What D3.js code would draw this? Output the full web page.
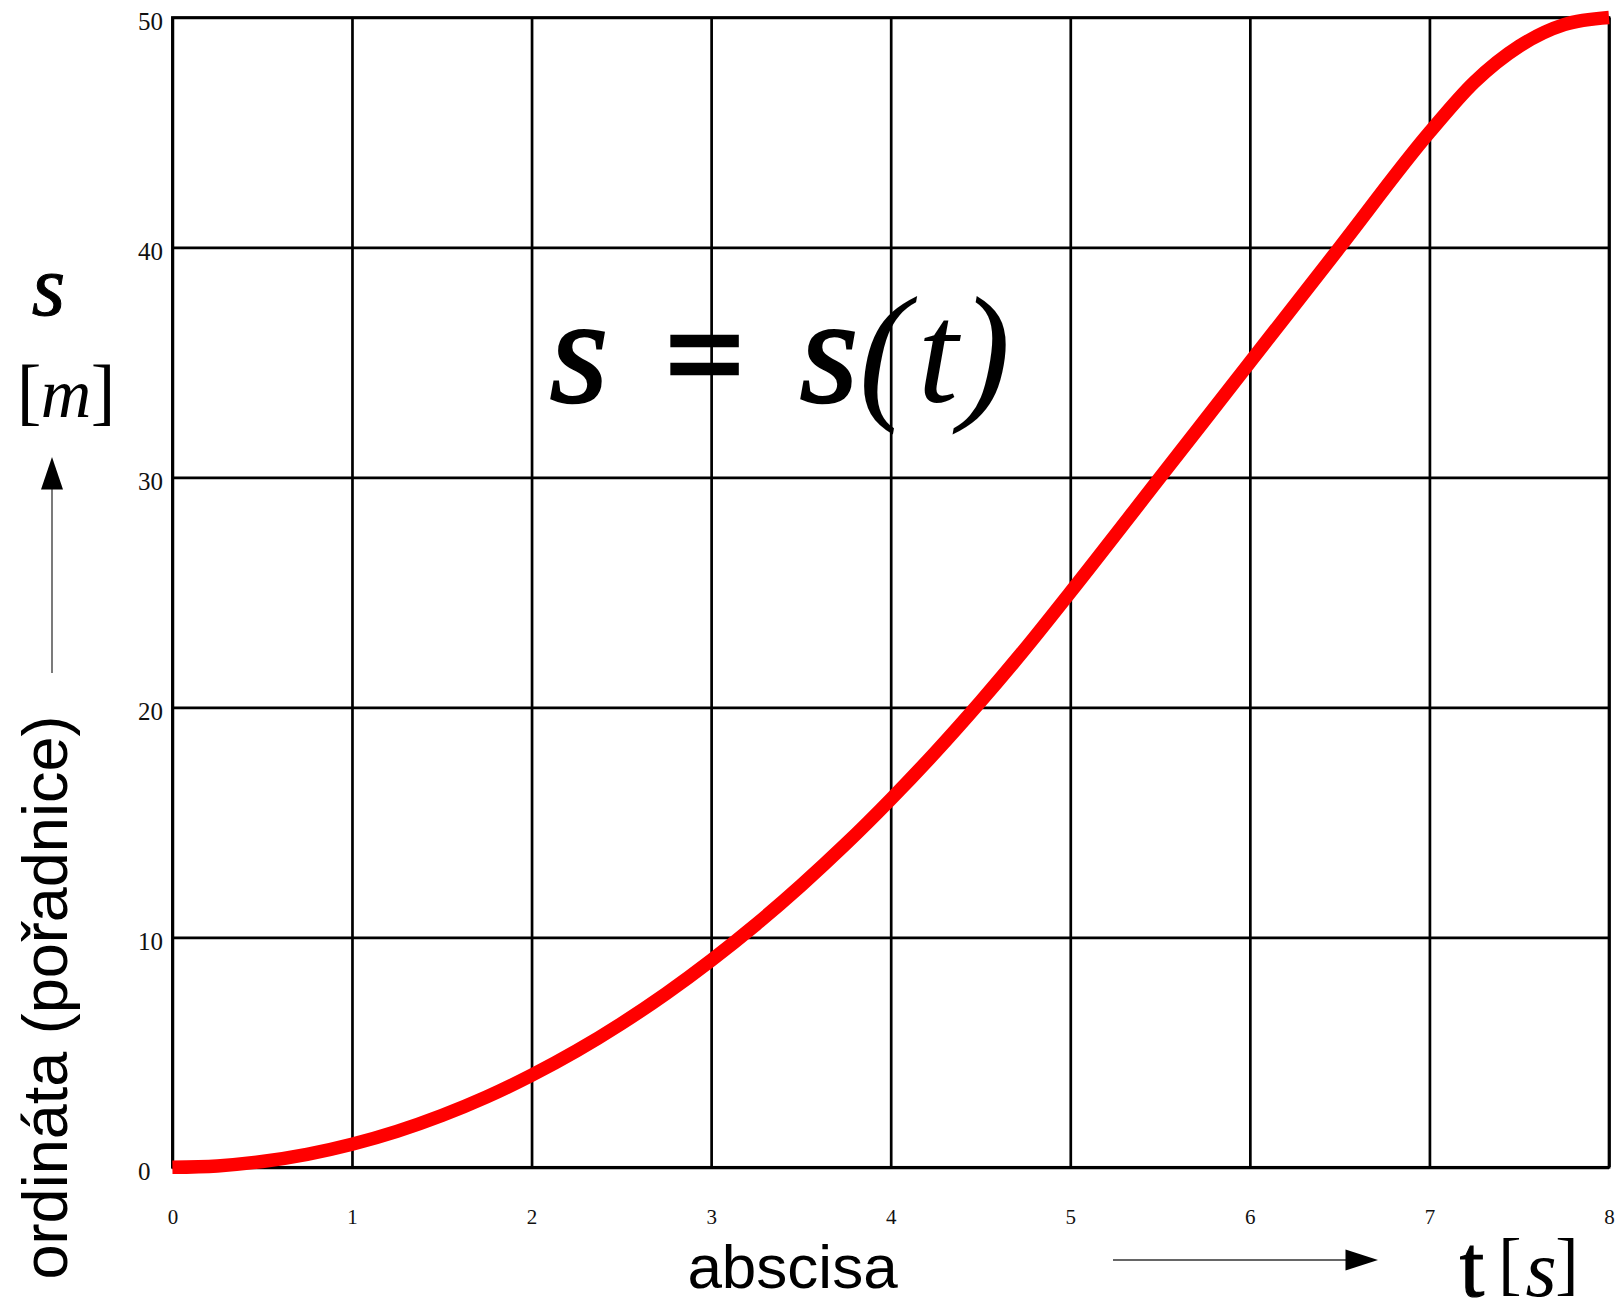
<!DOCTYPE html>
<html>
<head>
<meta charset="utf-8">
<script src="https://cdn.jsdelivr.net/npm/d3@7"></script>
<style>
  html, body { margin: 0; padding: 0; background: #fff; }
  svg { display: block; }
</style>
</head>
<body>
<svg id="chart" width="1619" height="1301"></svg>
<script>
// Time axis ticks [s] and distance axis ticks [m]
const tTicks = [0, 1, 2, 3, 4, 5, 6, 7, 8];
const sTicks = [0, 10, 20, 30, 40, 50];

// Path–time relation s = s(t): samples of time [s] and distance [m]
const tValues = [0, 0.25, 0.5, 0.75, 1, 1.25, 1.5, 1.75, 2, 2.25, 2.5, 2.75, 3,
                 3.25, 3.5, 3.75, 4, 4.25, 4.5, 4.75, 5, 5.5, 6, 6.5, 7,
                 7.25, 7.5, 7.75, 8];
const sValues = [0, 0.06, 0.25, 0.56, 1.0, 1.56, 2.25, 3.06, 4.0, 5.06, 6.25, 7.56, 9.0,
                 10.56, 12.25, 14.06, 16.0, 18.06, 20.25, 22.56, 25.0, 30.0, 35.0, 40.0, 45.0,
                 47.19, 48.75, 49.69, 50.0];

const SERIF = '"Liberation Serif", "Times New Roman", Times, serif';
const SANS = '"Liberation Sans", Arial, Helvetica, sans-serif';

const svg = d3.select("#chart");
const plot = { left: 172.4, right: 1609, top: 17.5, bottom: 1167.3 };
const W = plot.right - plot.left, H = plot.bottom - plot.top;

const x = d3.scaleLinear().domain([0, 8]).range([plot.left, plot.right]);
const y = d3.scaleLinear().domain([0, 50]).range([plot.bottom, plot.top]);

const gridW = 2.7;

// vertical grid + bottom labels
const xAxis = svg.append("g")
  .attr("transform", `translate(0,${plot.bottom})`)
  .call(d3.axisBottom(x).tickValues(tTicks).tickSize(-H).tickSizeOuter(0).tickFormat(d3.format("d")));
xAxis.select(".domain").remove();
xAxis.selectAll(".tick line").attr("stroke", "#000").attr("stroke-width", gridW);
xAxis.selectAll(".tick text")
  .attr("font-family", SERIF)
  .attr("font-size", 21)
  .attr("fill", "#111")
  .attr("y", 57).attr("dy", 0);

// horizontal grid + left labels (left-aligned)
const yAxis = svg.append("g")
  .attr("transform", `translate(${plot.left},0)`)
  .call(d3.axisLeft(y).tickValues(sTicks).tickSize(-W).tickSizeOuter(0).tickFormat(d3.format("d")));
yAxis.select(".domain").remove();
yAxis.selectAll(".tick line").attr("stroke", "#000").attr("stroke-width", gridW);
yAxis.selectAll(".tick text")
  .attr("font-family", SERIF)
  .attr("font-size", 25)
  .attr("fill", "#111")
  .attr("text-anchor", "start")
  .attr("x", -34.5).attr("dy", 0).attr("y", 12);

// frame
svg.append("rect")
  .attr("x", plot.left).attr("y", plot.top)
  .attr("width", W).attr("height", H)
  .attr("fill", "none").attr("stroke", "#000").attr("stroke-width", gridW);

// curve
const line = d3.line()
  .x((d, i) => x(tValues[i]))
  .y(d => y(d))
  .curve(d3.curveMonotoneX);
svg.append("path")
  .datum(sValues)
  .attr("d", line)
  .attr("fill", "none")
  .attr("stroke", "#ff0000")
  .attr("stroke-width", 13.5)
  .attr("stroke-linecap", "butt")
  .attr("stroke-linejoin", "round");

// small helper for single math glyphs
function glyph(g, txt, cx, base, size, opts = {}) {
  const t = g.append("text")
    .attr("x", cx).attr("y", base)
    .attr("text-anchor", "middle")
    .attr("font-family", opts.family || SERIF)
    .attr("font-size", size)
    .attr("fill", "#000")
    .text(txt);
  if (opts.italic) t.attr("font-style", "italic");
  if (opts.bold) t.attr("font-weight", "bold");
  if (opts.stroke) t.attr("stroke", "#000").attr("stroke-width", opts.stroke);
  return t;
}

// equation s = s(t)
const eq = svg.append("g");
const eqBase = 401.5;
glyph(eq, "s", 579, eqBase, 150, { italic: true, stroke: 2.5 });
glyph(eq, "=", 705, eqBase, 142, { bold: true, stroke: 2.5 });
glyph(eq, "s", 829, eqBase, 150, { italic: true, stroke: 2.5 });
glyph(eq, "(", 884, eqBase, 152, { italic: true });
glyph(eq, "t", 938, eqBase, 145, { italic: true });
glyph(eq, ")", 985, eqBase, 152, { italic: true });

// y-axis quantity and unit
const yq = svg.append("g");
glyph(yq, "s", 48.5, 315, 86, { italic: true, stroke: 1 });
glyph(yq, "[", 29, 416, 74);
glyph(yq, "m", 66, 416.5, 70, { italic: true });
glyph(yq, "]", 103, 416, 74);

// x-axis quantity and unit
const xq = svg.append("g");
glyph(xq, "t", 1472, 1296, 88, { stroke: 1.2 });
glyph(xq, "[", 1510, 1287, 70);
glyph(xq, "s", 1541, 1296, 80, { italic: true });
glyph(xq, "]", 1567, 1287, 70);

// axis names
svg.append("text")
  .attr("font-family", SANS)
  .attr("x", 792.5).attr("y", 1288).attr("text-anchor", "middle")
  .attr("font-size", 62).attr("fill", "#000").text("abscisa");
svg.append("text")
  .attr("font-family", SANS)
  .attr("transform", "translate(66.5,997.5) rotate(-90)")
  .attr("text-anchor", "middle")
  .attr("font-size", 63).attr("fill", "#000").text("ordináta (pořadnice)");

// direction arrows
const arrows = svg.append("g");
arrows.append("line").attr("x1", 1113).attr("y1", 1260).attr("x2", 1346).attr("y2", 1260)
  .attr("stroke", "#333").attr("stroke-width", 1.3);
arrows.append("path").attr("d", "M1345.5,1249.5 L1378,1260 L1345.5,1270.5 Z").attr("fill", "#000");
arrows.append("line").attr("x1", 52).attr("y1", 673).attr("x2", 52).attr("y2", 488)
  .attr("stroke", "#333").attr("stroke-width", 1.3);
arrows.append("path").attr("d", "M41,489.5 L52,457 L63,489.5 Z").attr("fill", "#000");
</script>
</body>
</html>
